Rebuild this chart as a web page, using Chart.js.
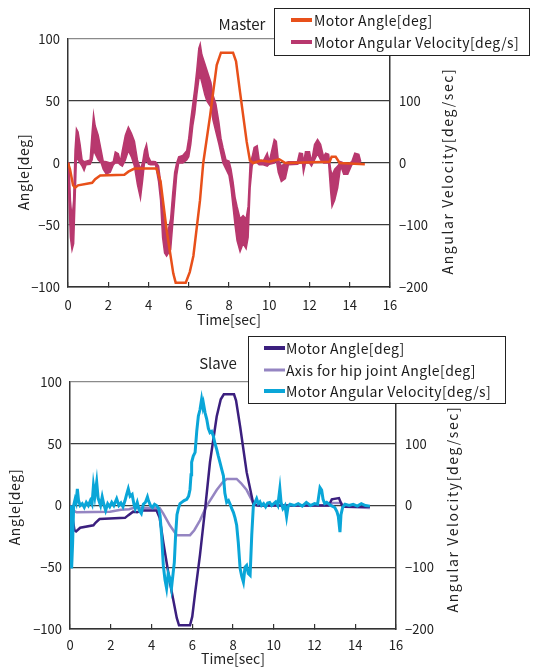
<!DOCTYPE html>
<html>
<head>
<meta charset="utf-8">
<script src="https://cdn.jsdelivr.net/npm/chart.js@4.4.1/dist/chart.umd.min.js"></script>
<style>
  html, body { margin: 0; padding: 0; background: #fff; }
  body { font-family: "Noto Sans CJK JP", "Noto Sans", sans-serif; color: #222; }
  #wrap { position: relative; width: 541px; height: 671px; overflow: hidden; }
  canvas { position: absolute; left: 0; }
  .txt { position: absolute; white-space: nowrap; transform: translate(-50%, -50%); }
  .rot { transform: translate(-50%, -50%) rotate(-90deg); }
  .legend { position: absolute; box-sizing: border-box; border: 1px solid #222; background: #fff; font-size: 14px; letter-spacing: 0.4px; color: #1a1a1a; }
  .legend .row { position: absolute; height: 20px; line-height: 20px; white-space: nowrap; }
  .legend .swatch { position: absolute; top: 50%; transform: translateY(-50%); }
</style>
</head>
<body>
<div id="wrap">
  <canvas id="master" width="541" height="330" style="top:0"></canvas>
  <canvas id="slave" width="541" height="341" style="top:330px"></canvas>

  <div class="txt" style="left:242px;top:23px;font-size:15px">Master</div>
  <div class="txt rot" style="left:23px;top:172px;font-size:14px;letter-spacing:0.6px">Angle[deg]</div>
  <div class="txt rot" style="left:447px;top:171px;font-size:14px;letter-spacing:1.6px">Angular Velocity[deg/sec]</div>
  <div class="legend" id="legendMaster" style="left:274px;top:8px;width:256px;height:48px"></div>

  <div class="txt" style="left:218px;top:362px;font-size:15px">Slave</div>
  <div class="txt rot" style="left:14px;top:507px;font-size:14px;letter-spacing:0.6px">Angle[deg]</div>
  <div class="txt rot" style="left:452px;top:509px;font-size:14px;letter-spacing:1.6px">Angular Velocity[deg/sec]</div>
  <div class="legend" id="legendSlave" style="left:248px;top:336px;width:258px;height:68px"></div>
</div>

<script>
// ---- Master ----
const masterAngleT = [0, 0.1, 0.25, 0.35, 0.5, 1.2, 1.35, 1.6, 2.8, 3.0,
  3.3, 4.4, 4.6, 4.9, 5.23, 5.35, 5.85, 6.05, 6.23, 6.56,
  6.72, 7.06, 7.39, 7.6, 8.2, 8.35, 8.55, 8.88, 9.04, 9.2,
  9.6, 10.0, 10.5, 10.8, 13.0, 13.1, 13.3, 13.5, 14.75];
const masterAngle = [0, -5, -18, -20, -18, -16, -13, -10, -9.5, -7,
  -4.5, -4.5, -15, -54, -89, -96.5, -96.5, -88, -75, -30,
  0, 38, 79, 89, 89, 82, 57, 17, 2, 0,
  2, 1, 3, 0, 1, 5, 5, 0, -1];

// velocity is a noisy band, so keep its lower and upper edge
const masterVelT = [0.0, 0.05, 0.12, 0.2, 0.28, 0.35, 0.42, 0.5, 0.6, 0.7,
  0.8, 0.9, 1.1, 1.2, 1.27, 1.35, 1.5, 1.65, 1.75, 1.9,
  2.1, 2.25, 2.35, 2.5, 2.6, 2.7, 2.85, 3.0, 3.15, 3.3,
  3.45, 3.6, 3.7, 3.8, 3.9, 4.0, 4.1, 4.35, 4.5, 4.6,
  4.7, 4.8, 4.9, 5.0, 5.1, 5.2, 5.3, 5.4, 5.5, 5.7,
  5.9, 6.0, 6.1, 6.2, 6.3, 6.4, 6.5, 6.57, 6.65, 6.8,
  6.9, 7.0, 7.1, 7.2, 7.35, 7.5, 7.6, 7.7, 7.85, 8.0,
  8.1, 8.2, 8.3, 8.4, 8.55, 8.7, 8.85, 8.95, 9.05, 9.15,
  9.25, 9.4, 9.5, 9.7, 9.9, 10.0, 10.25, 10.35, 10.45, 10.6,
  10.8, 10.95, 11.4, 11.5, 11.65, 11.7, 11.8, 12.0, 12.1, 12.25,
  12.4, 12.55, 12.7, 12.8, 12.95, 13.05, 13.12, 13.25, 13.4, 13.55,
  13.7, 13.9, 14.1, 14.25, 14.45, 14.55];
const masterVelLo = [-5, -60, -120, -140, -130, -60, 10, 5, 0, -5,
  -12, -3, -2, 5, 20, 15, 5, 0, -10, -18,
  -15, -3, 0, 0, -3, -5, 5, 20, 10, -5,
  -35, -57, -30, 0, 5, -2, -3, -3, -30, -60,
  -120, -145, -150, -145, -140, -100, -60, -20, 0, 0,
  5, 10, 30, 60, 80, 110, 135, 140, 130, 110,
  100, 95, 90, 70, 50, 30, 15, 0, -10, -20,
  -40, -70, -100, -125, -143, -130, -138, -120, -40, -5,
  5, 0, -3, -3, -5, -2, 0, 5, -15, -30,
  -25, -3, -2, 0, 0, -15, 0, 0, -5, 5,
  15, 5, 0, 0, 0, -45, -70, -60, -40, -5,
  -18, -18, -3, 0, 0, -2];
const masterVelHi = [0, 0, -60, -90, -60, 20, 55, 50, 30, 5,
  2, 3, 5, 50, 78, 60, 45, 20, 3, 2,
  0, 2, 18, 15, 2, 20, 45, 58, 48, 35,
  5, -10, 0, 20, 30, 10, 3, 2, -5, -30,
  -70, -100, -115, -105, -90, -50, -15, 0, 10, 12,
  20, 40, 70, 95, 120, 150, 185, 192, 175, 160,
  150, 140, 130, 110, 95, 65, 40, 25, 5, 3,
  -10, -30, -55, -70, -90, -85, -90, -70, 0, 10,
  25, 28, 5, 3, 16, 2, 38, 35, 5, -5,
  0, 2, 2, 16, 15, 0, 18, 18, 2, 30,
  38, 30, 10, 16, 14, -10, -20, -10, -5, 2,
  0, -2, 2, 16, 14, 2];

// ---- Slave ----
const slaveAngleT = [0, 0.1, 0.22, 0.3, 0.5, 1.15, 1.25, 1.45, 2.7, 2.85,
  3.1, 3.3, 3.5, 4.25, 4.4, 4.58, 4.9, 5.24, 5.35, 5.89,
  6.0, 6.14, 6.38, 6.63, 6.87, 7.2, 7.4, 7.55, 8.05, 8.15,
  8.35, 8.67, 9.0, 9.2, 12.7, 12.85, 13.2, 13.35, 13.5, 14.72];
const slaveAngle = [0, -8, -20, -21, -18, -16, -14, -11, -10, -8,
  -5, -5.5, -4, -4, -10, -30, -62, -91, -97, -97,
  -90, -71, -40, -3, 35, 72, 86, 90, 90, 85,
  64, 27, 1, 0, 0, 5, 6, 0, -1, -1];

const hipT = [0, 0.15, 0.33, 1.96, 2.5, 2.9, 3.1, 4.4, 4.58, 4.9,
  5.24, 5.89, 6.1, 6.38, 6.7, 7.2, 7.5, 7.69, 8.18, 8.4,
  8.67, 9.0, 9.2, 12.7, 12.9, 13.3, 13.5, 14.72];
const hipAngle = [0, -4, -5.5, -5, -3.5, -3, -2, -2, -6.5, -16,
  -24, -24, -20, -12, -0.5, 12.5, 19, 21.5, 21.5, 18,
  12.5, 2, 0, 0, 2, 2, -1, -2];

const slaveVelT = [0, 0.04, 0.08, 0.13, 0.18, 0.25, 0.3, 0.36, 0.42, 0.5,
  0.6, 0.7, 0.8, 0.9, 1.0, 1.08, 1.15, 1.22, 1.31, 1.38,
  1.5, 1.58, 1.66, 1.75, 1.85, 1.95, 2.05, 2.15, 2.29, 2.4,
  2.5, 2.6, 2.7, 2.78, 2.86, 2.95, 3.05, 3.15, 3.2, 3.3,
  3.4, 3.5, 3.6, 3.7, 3.8, 3.85, 3.95, 4.05, 4.15, 4.25,
  4.35, 4.42, 4.5, 4.58, 4.66, 4.74, 4.82, 4.9, 4.98, 5.06,
  5.12, 5.18, 5.25, 5.32, 5.4, 5.48, 5.6, 5.73, 5.82, 5.89,
  5.94, 5.97, 6.05, 6.14, 6.22, 6.3, 6.38, 6.46, 6.52, 6.55,
  6.63, 6.71, 6.79, 6.87, 6.95, 7.03, 7.12, 7.2, 7.28, 7.36,
  7.45, 7.53, 7.6, 7.69, 7.78, 7.86, 7.94, 8.02, 8.1, 8.18,
  8.26, 8.35, 8.43, 8.51, 8.59, 8.67, 8.75, 8.84, 8.92, 9.0,
  9.08, 9.16, 9.24, 9.32, 9.4, 9.5, 9.6, 9.7, 9.8, 9.9,
  10.0, 10.1, 10.2, 10.3, 10.36, 10.45, 10.55, 10.63, 10.7, 10.8,
  11.0, 11.2, 11.4, 11.6, 11.8, 12.0, 12.15, 12.27, 12.35, 12.42,
  12.5, 12.6, 12.8, 12.99, 13.1, 13.17, 13.25, 13.3, 13.38, 13.5,
  13.7, 13.9, 14.1, 14.3, 14.5, 14.72];
const slaveVel = [0, -40, -102, -60, 0, 10, 5, 27, 8, 0,
  3, -3, 5, 0, 8, 2, 32, 15, 38, 12,
  0, 14, 2, -8, 3, -2, 5, 0, 11, 0,
  4, -2, 8, 18, 27, 15, 18, 0, -5, 5,
  -8, -13, 2, 5, 14, 8, 0, -3, 2, 0,
  -5, -16, -50, -97, -120, -134, -110, -118, -134, -110,
  -92, -50, -15, -5, 3, 5, 8, 10, 15, 26,
  50, 70, 80, 86, 120, 145, 155, 172, 160, 165,
  150, 140, 125, 118, 120, 113, 100, 91, 80, 70,
  58, 48, 20, 5, 8, 2, -5, -11, -20, -32,
  -60, -102, -115, -124, -100, -97, -110, -113, -48, 0,
  5, 11, 3, 6, 0, 3, -2, 4, 5, 0,
  3, 6, 0, 27, 5, -5, 0, -18, -2, 2,
  0, 3, -1, 5, 0, 3, 2, 29, 25, 10,
  3, 5, 0, -3, -10, -18, -43, -15, -3, 2,
  0, 2, -1, 3, 0, -1];

const xTicks = { min: 0, max: 16, step: 2 };

function pairs(xs, ys) {
  return xs.map((x, i) => ({ x: x, y: ys[i] }));
}

const tickFont = { family: '"Noto Sans CJK JP", "Noto Sans", sans-serif', size: 13 };
const minus = v => String(v).replace('-', '\u2212');

function makeOptions(leftWidth, rightPad, topPad, xHeight, titlePad, xPad) {
  return {
    responsive: false,
    devicePixelRatio: 1,
    animation: false,
    events: [],
    layout: { padding: { left: 0, right: rightPad, top: topPad, bottom: 0 } },
    plugins: { legend: { display: false }, tooltip: { enabled: false } },
    elements: { point: { radius: 0 }, line: { tension: 0 } },
    scales: {
      x: {
        type: 'linear',
        min: xTicks.min,
        max: xTicks.max,
        ticks: { stepSize: xTicks.step, padding: xPad, color: '#222', font: tickFont },
        grid: { drawOnChartArea: false, drawTicks: true, tickLength: -5, color: '#333', lineWidth: 1.2 },
        border: { color: '#333', width: 1.5 },
        title: {
          display: true,
          text: 'Time[sec]',
          color: '#222',
          font: { family: tickFont.family, size: 14 },
          padding: { top: 0, bottom: titlePad }
        },
        afterFit: s => { s.height = xHeight; }
      },
      y: {
        position: 'left',
        min: -100,
        max: 100,
        ticks: { stepSize: 50, padding: 8, color: '#222', font: tickFont, callback: minus },
        grid: {
          drawTicks: false,
          color: c => (c.tick && c.tick.value === 100) ? '#8a8a8a' : '#3c3c3c',
          lineWidth: 1.3
        },
        border: { color: '#333', width: 1.5 },
        afterFit: s => { s.width = leftWidth; }
      },
      y1: {
        position: 'right',
        min: -200,
        max: 200,
        ticks: { stepSize: 100, padding: 9, color: '#222', font: tickFont, callback: minus },
        grid: { drawOnChartArea: false, drawTicks: false },
        border: { color: '#333', width: 1.5 },
        afterFit: s => { s.width = 80; }
      }
    }
  };
}

const masterChart = new Chart(document.getElementById('master'), {
  type: 'line',
  data: {
    datasets: [
      {
        label: 'Motor Angle[deg]',
        data: pairs(masterAngleT, masterAngle),
        yAxisID: 'y',
        borderColor: '#E8501A',
        borderWidth: 2.5
      },
      {
        label: 'Motor Angular Velocity[deg/s]',
        data: pairs(masterVelT, masterVelHi),
        yAxisID: 'y1',
        borderColor: '#B8386E',
        borderWidth: 1.5
      },
      {
        label: 'velLow',
        data: pairs(masterVelT, masterVelLo),
        yAxisID: 'y1',
        borderColor: '#B8386E',
        backgroundColor: '#B8386E',
        borderWidth: 1.5,
        fill: '-1'
      }
    ]
  },
  options: makeOptions(68, 71, 39, 43, 2, 15)
});

const slaveChart = new Chart(document.getElementById('slave'), {
  type: 'line',
  data: {
    datasets: [
      {
        label: 'Motor Angular Velocity[deg/s]',
        data: pairs(slaveVelT, slaveVel),
        yAxisID: 'y1',
        borderColor: '#0AA6D8',
        borderWidth: 3
      },
      {
        label: 'Motor Angle[deg]',
        data: pairs(slaveAngleT, slaveAngle),
        yAxisID: 'y',
        borderColor: '#3B1F7E',
        borderWidth: 2.5
      },
      {
        label: 'Axis for hip joint Angle[deg]',
        data: pairs(hipT, hipAngle),
        yAxisID: 'y',
        borderColor: '#9585C2',
        borderWidth: 2.5
      }
    ]
  },
  options: makeOptions(70, 65, 52, 42, 4, 13)
});

// legends (drawn as html boxes over the plot, like the original)
function buildLegend(el, items, rowTop, rowGap, swLeft, textLeft) {
  items.forEach((it, i) => {
    const row = document.createElement('div');
    row.className = 'row';
    row.style.top = (rowTop + i * rowGap) + 'px';
    row.style.left = '0px';
    const sw = document.createElement('span');
    sw.className = 'swatch';
    sw.style.left = swLeft + 'px';
    sw.style.width = '21px';
    sw.style.height = it.h + 'px';
    sw.style.background = it.color;
    const tx = document.createElement('span');
    tx.style.position = 'absolute';
    tx.style.left = textLeft + 'px';
    tx.textContent = it.label;
    row.appendChild(sw);
    row.appendChild(tx);
    el.appendChild(row);
  });
}

const md = masterChart.data.datasets;
buildLegend(document.getElementById('legendMaster'), [
  { label: md[0].label, color: md[0].borderColor, h: 4 },
  { label: md[1].label, color: md[1].borderColor, h: 4 }
], 1, 22, 16, 39);

const sd = slaveChart.data.datasets;
buildLegend(document.getElementById('legendSlave'), [
  { label: sd[1].label, color: sd[1].borderColor, h: 4 },
  { label: sd[2].label, color: sd[2].borderColor, h: 3 },
  { label: sd[0].label, color: sd[0].borderColor, h: 4 }
], 1, 21.7, 15, 37);
</script>
</body>
</html>
